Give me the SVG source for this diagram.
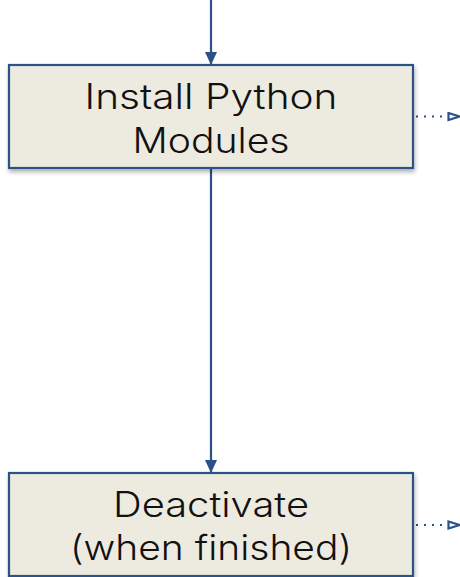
<svg xmlns="http://www.w3.org/2000/svg" width="460" height="577" viewBox="0 0 460 577">
<style>
.box{fill:#edeae0;stroke:#2b5288;stroke-width:2.2}
.lbl{font-family:Inter,"Liberation Sans",sans-serif;font-weight:300;font-size:35px;fill:#111;text-anchor:middle}
.conn{stroke:#2b5288;stroke-width:2.2;fill:none}
.dot{stroke:#2b5288;stroke-width:2;fill:none;stroke-dasharray:2 6}
</style>
<defs>
<marker id="ah" viewBox="0 0 13 12" refX="13" refY="6" markerWidth="13" markerHeight="12" orient="auto" markerUnits="userSpaceOnUse"><path d="M0,0 L13,6 L0,12 z" fill="#2b5288"/></marker>
<marker id="oh" viewBox="0 0 14 10" refX="13" refY="5" markerWidth="14" markerHeight="10" orient="auto" markerUnits="userSpaceOnUse"><path d="M1.5,1.5 L12.5,5 L1.5,8.5 z" fill="#fff" stroke="#2b5288" stroke-width="2.2"/></marker>
<filter id="sh" x="-10%" y="-10%" width="120%" height="130%"><feDropShadow dx="1" dy="3" stdDeviation="2" flood-color="#000" flood-opacity="0.3"/></filter>
</defs>
<g id="connectors">
<line class="conn" x1="211" y1="0" x2="211" y2="65" marker-end="url(#ah)"/>
<line class="conn" x1="211" y1="168" x2="211" y2="473" marker-end="url(#ah)"/>
<line class="dot" x1="416" y1="116.5" x2="460" y2="116.5" marker-end="url(#oh)"/>
<line class="dot" x1="416" y1="525" x2="460" y2="525" marker-end="url(#oh)"/>
</g>
<g id="node-install">
<rect class="box" x="9" y="65" width="404" height="103" filter="url(#sh)"/>
<text class="lbl" x="211" y="109" textLength="253" lengthAdjust="spacingAndGlyphs">Install Python</text>
<text class="lbl" x="211" y="153" textLength="157" lengthAdjust="spacingAndGlyphs">Modules</text>
</g>
<g id="node-deactivate">
<rect class="box" x="9" y="473" width="404" height="103" filter="url(#sh)"/>
<text class="lbl" x="211" y="517" textLength="196" lengthAdjust="spacingAndGlyphs">Deactivate</text>
<text class="lbl" x="211" y="560" textLength="282" lengthAdjust="spacingAndGlyphs">(when finished)</text>
</g>
</svg>
